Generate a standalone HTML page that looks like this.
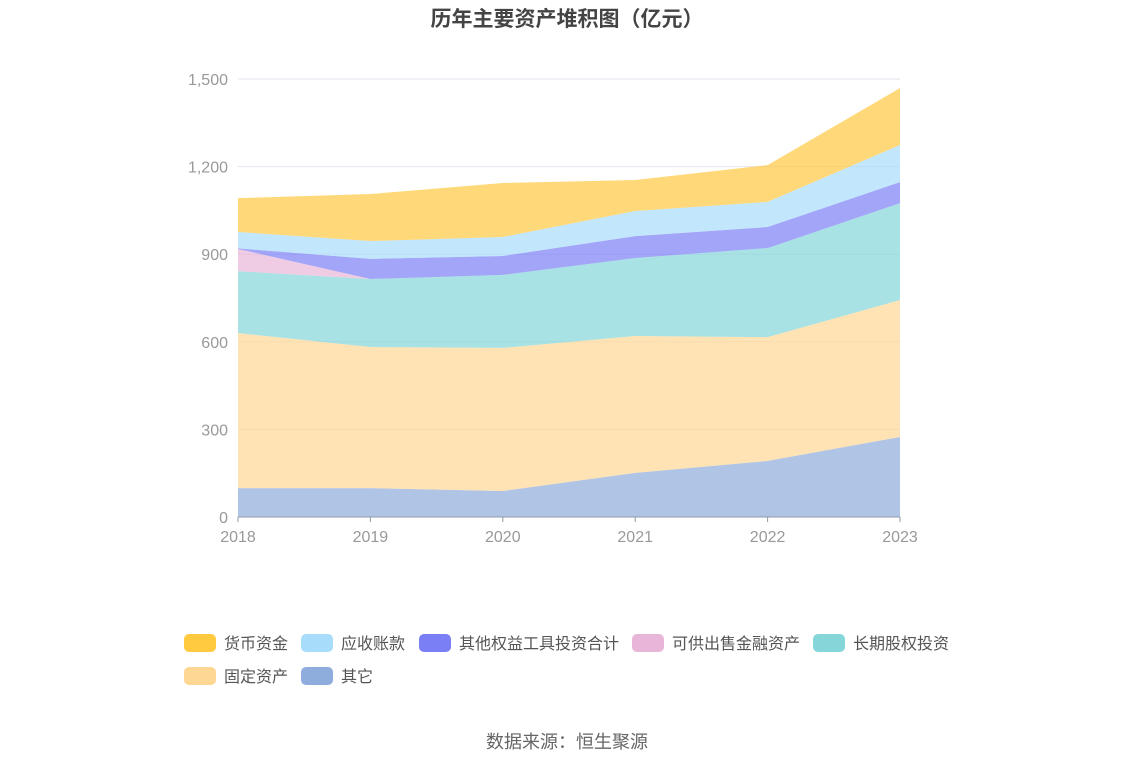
<!DOCTYPE html>
<html><head><meta charset="utf-8"><style>
body{margin:0;background:#fff;font-family:"Liberation Sans","Noto Sans CJK SC",sans-serif;}
</style></head><body>
<svg width="1134" height="766" style="display:block">
<text x="567" y="26" text-anchor="middle" font-size="21" font-weight="bold" fill="#444" font-family="Liberation Sans, Noto Sans CJK SC, sans-serif">历年主要资产堆积图（亿元）</text>
<g id="grid"></g>
<g id="areas"></g>
<g id="axes"></g>
<g id="legend"></g>
<text x="567" y="748" text-anchor="middle" font-size="18" fill="#666" font-family="Liberation Sans, Noto Sans CJK SC, sans-serif">数据来源：恒生聚源</text>
</svg>
<script>
const years=["2018","2019","2020","2021","2022","2023"];
const yTicks=[0,300,600,900,1200,1500];
const yTickLabels=["0","300","600","900","1,200","1,500"];
const seriesNames=["其它","固定资产","长期股权投资","可供出售金融资产","其他权益工具投资合计","应收账款","货币资金"];
const other=[99,99,89,151,192,274];
const fixedAssets=[531,483,490,469,424,469];
const ltEquity=[212,233,250,267,305,332];
const afs=[76,0,0,0,0,0];
const otherEquity=[2,69,65,75,72,72];
const receivables=[56,61,65,86,86,127];
const cash=[116,161,185,106,126,195];
const seriesData=[other,fixedAssets,ltEquity,afs,otherEquity,receivables,cash];
const colors=["#8eaddc","#ffd794","#84d6d8","#e8b6d9","#7b7ff5","#a8dcfb","#ffc940"];
const ns="http://www.w3.org/2000/svg";
const x0=238,x1=900,yb=517,yt=79;
const X=i=>x0+(x1-x0)*i/(years.length-1);
const Y=v=>yb-(yb-yt)*v/1500;
function mk(t,a,p){const e=document.createElementNS(ns,t);for(const k in a)e.setAttribute(k,a[k]);p.appendChild(e);return e;}
const grid=document.getElementById('grid'),axes=document.getElementById('axes'),areas=document.getElementById('areas'),legend=document.getElementById('legend');
yTicks.forEach((v,i)=>{
 if(v>0){const l=mk('line',{x1:x0,x2:x1,y1:Y(v),y2:Y(v),stroke:'#e3e6f0'},grid);
 
 }
 const t=mk('text',{x:228,y:Y(v)+6,'text-anchor':'end','font-size':16,fill:'#999'},axes);t.textContent=yTickLabels[i];
 
 
});
let base=years.map(()=>0);
seriesData.forEach((s,k)=>{
 const top=base.map((b,i)=>b+s[i]);
 let d='M'+top.map((v,i)=>X(i)+','+Y(v)).join('L');
 for(let i=years.length-1;i>=0;i--)d+='L'+X(i)+','+Y(base[i]);
 const p=mk('path',{d:d+'Z',fill:colors[k],'fill-opacity':0.7},areas);
 
 
 base=top;
});
const ax=mk('line',{x1:x0,x2:x1,y1:yb,y2:yb,stroke:'#8c9aa8'},axes);


years.forEach((y,i)=>{
 mk('line',{x1:X(i),x2:X(i),y1:yb,y2:yb+5,stroke:'#8c9aa8'},axes);
 const t=mk('text',{x:X(i),y:542,'text-anchor':'middle','font-size':16,fill:'#999'},axes);t.textContent=y;
 
 
});
const legOrder=[6,5,4,3,2,1,0];
const legPos=[[184,643],[301,643],[419,643],[632,643],[813,643],[184,676],[301,676]];
legOrder.forEach((k,j)=>{
 const [lx,ly]=legPos[j];
 const g=mk('g',{},legend);
 
 
 mk('rect',{x:lx,y:ly-9,width:32,height:18,rx:5,fill:colors[k]},g);
 const t=mk('text',{x:lx+40,y:ly+6,'font-size':16,fill:'#555'},g);t.textContent=seriesNames[k];
});
</script>
</body></html>
